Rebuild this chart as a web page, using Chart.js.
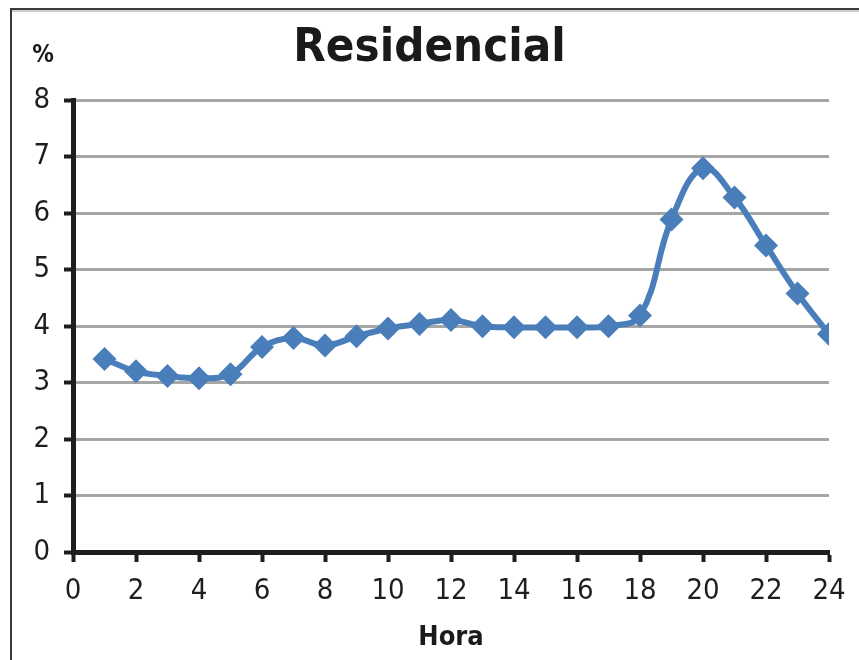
<!DOCTYPE html>
<html>
<head>
<meta charset="utf-8">
<title>Residencial</title>
<script src="https://cdn.jsdelivr.net/npm/chart.js@4/dist/chart.umd.min.js"></script>
<style>
  html, body { margin: 0; padding: 0; background: #ffffff; }
  #wrap { position: relative; width: 859px; height: 660px; }
  canvas { display: block; }
</style>
</head>
<body>
<div id="wrap"><canvas id="chart" width="859" height="660"></canvas></div>
<script>
// Hourly residential load share (%)
const hours = [1, 2, 3, 4, 5, 6, 7, 8, 9, 10, 11, 12, 13, 14, 15, 16, 17, 18, 19, 20, 21, 22, 23, 24];
const sharePct = [3.42, 3.20, 3.12, 3.08, 3.15, 3.63, 3.79, 3.66, 3.82, 3.96, 4.04, 4.11,
                  4.00, 3.98, 3.98, 3.98, 4.00, 4.19, 5.89, 6.80, 6.28, 5.43, 4.58, 3.86];
const xTicks = [0, 2, 4, 6, 8, 10, 12, 14, 16, 18, 20, 22, 24];
const yTicks = [0, 1, 2, 3, 4, 5, 6, 7, 8];

const chartTitle = 'Residencial';
const xTitle = 'Hora';
const yUnit = '%';

const NARROW = "'Liberation Sans Narrow', 'DejaVu Sans Condensed', 'Arial Narrow', sans-serif";
const BLUE = '#4a7ebb';
const INK = '#1e1e1e';

const points = hours.map((h, i) => ({ x: h, y: sharePct[i] }));

// Outer frame and the unit label above the value axis
const decorations = {
  id: 'decorations',
  beforeDraw(chart) {
    const ctx = chart.ctx;
    ctx.save();
    ctx.fillStyle = '#ffffff';
    ctx.fillRect(0, 0, chart.width, chart.height);
    ctx.strokeStyle = '#3a3a3a';
    ctx.lineWidth = 2;
    ctx.beginPath();
    ctx.moveTo(11, chart.height);
    ctx.lineTo(11, 9);
    ctx.lineTo(chart.width, 9);
    ctx.stroke();
    ctx.strokeStyle = '#9a9a9a';
    ctx.lineWidth = 1;
    ctx.beginPath();
    ctx.moveTo(12, 11);
    ctx.lineTo(chart.width, 11);
    ctx.stroke();
    ctx.restore();
  },
  afterDraw(chart) {
    const ctx = chart.ctx;
    ctx.save();
    ctx.fillStyle = '#1a1a1a';
    ctx.font = 'bold 24px ' + NARROW;
    ctx.textAlign = 'center';
    ctx.textBaseline = 'middle';
    ctx.fillText(yUnit, 43, 56);
    ctx.restore();
  }
};

new Chart(document.getElementById('chart'), {
  type: 'line',
  data: {
    datasets: [{
      data: points,
      yAxisID: 'y',
      borderColor: BLUE,
      backgroundColor: BLUE,
      borderWidth: 6,
      tension: 0.4,
      pointStyle: 'rectRot',
      pointRadius: 12,
      pointBorderWidth: 0,
      pointBackgroundColor: BLUE,
      fill: false
    }]
  },
  options: {
    responsive: false,
    animation: false,
    layout: { padding: 0 },
    plugins: {
      legend: { display: false },
      tooltip: { enabled: false },
      title: {
        display: true,
        text: chartTitle,
        color: '#1a1a1a',
        font: { family: NARROW, size: 47, weight: 'bold', lineHeight: 1.2 },
        padding: { top: 21, bottom: 23 }
      }
    },
    scales: {
      x: {
        type: 'linear',
        min: 0,
        max: 24,
        afterBuildTicks(scale) { scale.ticks = xTicks.map(v => ({ value: v })); },
        afterFit(scale) { scale.height = 108; },
        border: { display: true, color: INK, width: 5 },
        grid: { drawOnChartArea: false, drawTicks: true, tickLength: 10, tickColor: INK, tickWidth: 4 },
        ticks: { color: INK, padding: 12, maxRotation: 0, autoSkip: false,
                 font: { family: NARROW, size: 29 } },
        title: { display: true, text: xTitle, color: '#1a1a1a',
                 font: { family: NARROW, size: 27, weight: 'bold', lineHeight: 1.2 },
                 padding: { top: 0, bottom: 6 } }
      },
      y: {
        type: 'linear',
        min: 0,
        max: 8,
        afterBuildTicks(scale) { scale.ticks = yTicks.map(v => ({ value: v })); },
        afterFit(scale) { scale.width = 73; },
        border: { display: true, color: INK, width: 5 },
        grid: { color: '#a6a6a6', lineWidth: 3, drawTicks: true, tickLength: 9, tickColor: INK, tickWidth: 4 },
        ticks: { color: INK, padding: 14, font: { family: NARROW, size: 29 } }
      },
      // empty strip on the right that keeps the plot clear of the edge
      yRight: {
        type: 'linear',
        position: 'right',
        min: 0,
        max: 8,
        afterFit(scale) { scale.width = 30; },
        border: { display: false },
        grid: { display: false, drawTicks: false },
        ticks: { display: false }
      }
    }
  },
  plugins: [decorations]
});
</script>
</body>
</html>
